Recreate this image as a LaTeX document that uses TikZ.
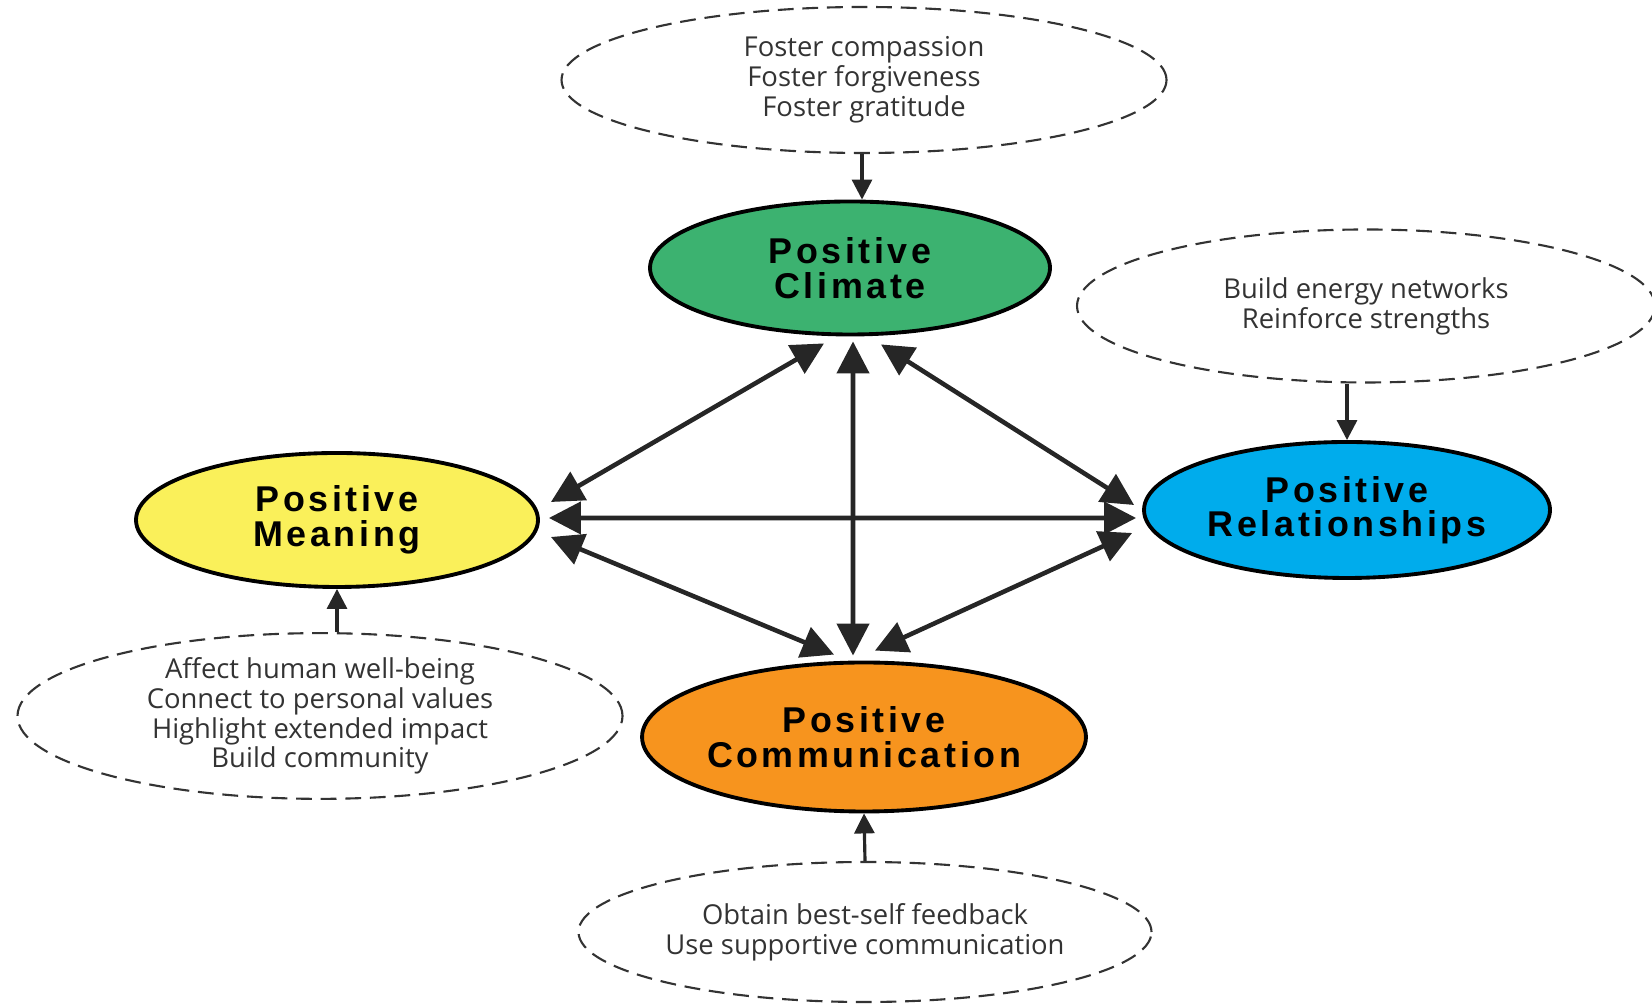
\documentclass[tikz,border=0pt]{standalone}
\usepackage{fontspec}
\usetikzlibrary{shapes.geometric,arrows.meta,calc}
\newfontfamily\labelfont[LetterSpace=10]{Liberation Sans}
\newfontfamily\notefont{Open Sans}
\definecolor{climgreen}{RGB}{60,178,112}
\definecolor{meanyellow}{RGB}{250,240,90}
\definecolor{relblue}{RGB}{0,172,236}
\definecolor{commorange}{RGB}{247,148,30}
\begin{document}
\begin{tikzpicture}[
  area/.style={ellipse,draw=black,line width=1.1pt,inner sep=0pt,align=center,
    font=\labelfont\bfseries\fontsize{10.2}{9.8}\selectfont},
  note/.style={ellipse,draw=black!80,dash pattern=on 4.5pt off 2.5pt,line width=0.6pt,
    inner sep=0pt,align=center,text=black!80,font=\notefont\fontsize{7.8}{8.5}\selectfont},
  link/.style={{Triangle[length=0.32cm,width=0.32cm]}-{Triangle[length=0.32cm,width=0.32cm]},
    line width=1.3pt,black!85},
  feed/.style={-{Triangle[length=0.2cm,width=0.2cm]},line width=0.9pt,black!85}
]
\useasboundingbox (0,0) rectangle (16.52,10.08);
% the four areas
\node[area,fill=climgreen,minimum width=4cm,minimum height=1.33cm] (clim) at (8.50,7.40) {Positive\\Climate};
\node[area,fill=meanyellow,minimum width=4.02cm,minimum height=1.34cm] (mean) at (3.37,4.88) {Positive\\Meaning};
\node[area,fill=relblue,minimum width=4.06cm,minimum height=1.36cm] (rel) at (13.47,4.98) {Positive\\Relationships};
\node[area,fill=commorange,minimum width=4.34cm,minimum height=1.49cm] (comm) at (8.64,2.71) {Positive\\Communication};
% the practices
\node[note,minimum width=6.05cm,minimum height=1.46cm] (climnote) at (8.64,9.28) {Foster compassion\\Foster forgiveness\\Foster gratitude};
\node[note,minimum width=5.78cm,minimum height=1.53cm] (relnote) at (13.66,7.02) {Build energy networks\\Reinforce strengths};
\node[note,minimum width=6.05cm,minimum height=1.43cm] (meannote) at (3.20,2.92) {Affect human well-being\\Connect to personal values\\Highlight extended impact\\Build community};
\node[note,minimum width=5.73cm,minimum height=1.40cm] (commnote) at (8.65,0.76) {Obtain best-self feedback\\Use supportive communication};
% practices into areas
\draw[feed] (climnote.south -| 8.62,0) -- (clim.north -| 8.62,0);
\draw[feed] (rel.north |- relnote.south) -- (rel.north);
\draw[feed] (mean.south |- meannote.north) -- (mean.south);
\draw[feed] (commnote.north) -- (comm.south);
% links between areas
\draw[link] ($(clim.south)+(-0.26,-0.07)$) -- ($(mean.east)+(0.11,0.18)$);
\draw[link] ($(clim.south)+(0.31,-0.08)$) -- ($(rel.west)+(-0.08,0.05)$);
\draw[link] ($(clim.south)+(0.03,-0.05)$) -- ($(comm.north)+(-0.11,0.05)$);
\draw[link] ($(mean.east)+(0.09,0.02)$) -- ($(rel.west)+(-0.06,-0.08)$);
\draw[link] ($(mean.east)+(0.11,-0.17)$) -- ($(comm.north)+(-0.30,0.06)$);
\draw[link] ($(rel.west)+(-0.10,-0.23)$) -- ($(comm.north)+(0.11,0.10)$);
\end{tikzpicture}
\end{document}
